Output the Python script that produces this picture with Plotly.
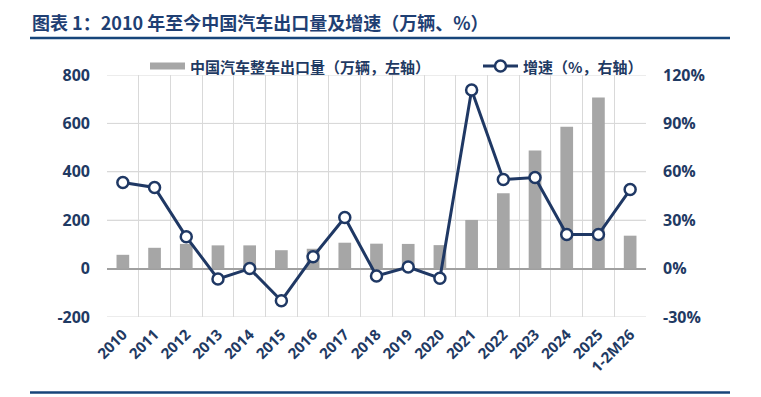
import plotly.graph_objects as go

categories = ["2010", "2011", "2012", "2013", "2014", "2015", "2016", "2017", "2018",
              "2019", "2020", "2021", "2022", "2023", "2024", "2025", "1-2M26"]
export_volume = [57, 86, 102, 96, 96, 76, 82, 107, 103, 102, 97, 201, 311, 488, 586, 707, 136]
growth_pct = [53.4, 50.3, 19.7, -6.4, 0.0, -19.9, 7.4, 31.7, -4.6, 1.0, -6.0, 110.7,
              55.2, 56.5, 21.1, 21.1, 49.0]

left_ticks = [-200, 0, 200, 400, 600, 800]
left_tick_text = ["-200", "0", "200", "400", "600", "800"]
right_ticks = [-30, 0, 30, 60, 90, 120]
right_tick_text = ["-30%", "0%", "30%", "60%", "90%", "120%"]

bar_name = "中国汽车整车出口量（万辆，左轴）"
line_name = "增速（%，右轴）"
title_text = "图表 1：2010 年至今中国汽车出口量及增速（万辆、%）"

NAVY = "#1F3864"
TXT = "#1F3A63"
RULE = "#17457A"
GRID = "#D9D9D9"

W, H = 761, 397
L, R, T, B = 107, 115, 75, 80
PW, PH = W - L - R, H - T - B


def px(x):
    return (x - L) / PW


def py(y):
    return (H - B - y) / PH


fig = go.Figure()

# horizontal gridlines at the left-axis ticks
for v in left_ticks:
    if v == 0:
        continue
    fig.add_shape(type="line", xref="paper", yref="y", x0=0, x1=1, y0=v, y1=v,
                  line=dict(color=GRID, width=1), layer="below")

fig.add_trace(go.Bar(
    x=categories, y=export_volume, name=bar_name,
    marker=dict(color="#A6A6A6", line=dict(width=0)), width=0.4, yaxis="y",
    showlegend=False,
))
fig.add_trace(go.Scatter(
    x=categories, y=growth_pct, name=line_name, yaxis="y2",
    mode="lines+markers",
    line=dict(color=NAVY, width=3),
    marker=dict(symbol="circle", size=11, color="white", line=dict(color=NAVY, width=2.5)),
    showlegend=False, cliponaxis=False,
))

tickfont = dict(family="Open Sans, Noto Sans CJK SC", size=16, color=TXT, weight="bold")

fig.update_layout(
    width=W, height=H,
    margin=dict(l=L, r=R, t=T, b=B, autoexpand=False),
    paper_bgcolor="white", plot_bgcolor="white",
    showlegend=False,
    xaxis=dict(type="category", range=[-0.5, len(categories) - 0.5], autorange=False,
               tickson="boundaries", showgrid=True, gridcolor=GRID,
               gridwidth=1, tickangle=-45, ticks="", showline=False, automargin=False,
               ticklabelstandoff=5,
               tickfont=dict(family="Open Sans, Noto Sans CJK SC", size=15, color=TXT, weight="bold")),
    yaxis=dict(range=[-200, 800], tickvals=left_ticks, ticktext=left_tick_text,
               showgrid=True, gridcolor=GRID,
               zeroline=True, zerolinecolor="#A0A0A0", zerolinewidth=1.5, automargin=False,
               tickfont=tickfont, ticks="", showline=False, ticklabelstandoff=16),
    yaxis2=dict(range=[-30, 120], tickvals=right_ticks, ticktext=right_tick_text,
                overlaying="y", side="right", showgrid=False, zeroline=False, automargin=False,
                tickfont=tickfont, ticks="", showline=False, ticklabelstandoff=16),
    bargap=0.6,
    title=dict(text=title_text,
               xref="container", yref="container", x=32 / W, xanchor="left",
               y=1 - 24 / H, yanchor="middle", automargin=False,
               font=dict(family="Noto Sans CJK SC", size=18, color="#1F3F73", weight="bold")),
)

# rules under the title and at the bottom
for yy in (38, 392.5):
    fig.add_shape(type="line", xref="paper", yref="paper",
                  x0=px(30), x1=px(730), y0=py(yy), y1=py(yy),
                  line=dict(color=RULE, width=2.5))

# manual legend
LEG_Y = 66
fig.add_shape(type="rect", xref="paper", yref="paper",
              x0=px(150), x1=px(185), y0=py(69.5), y1=py(62.5),
              fillcolor="#A6A6A6", line=dict(width=0))
fig.add_annotation(x=px(188), y=py(LEG_Y), xref="paper", yref="paper",
                   text=bar_name, showarrow=False, xanchor="left", yanchor="middle",
                   font=dict(family="Noto Sans CJK SC", size=15, color=TXT, weight="bold"))
fig.add_shape(type="line", xref="paper", yref="paper",
              x0=px(483), x1=px(518), y0=py(LEG_Y), y1=py(LEG_Y),
              line=dict(color=NAVY, width=3))
fig.add_shape(type="circle", xref="paper", yref="paper",
              x0=px(495), x1=px(506), y0=py(LEG_Y + 5.5), y1=py(LEG_Y - 5.5),
              fillcolor="white", line=dict(color=NAVY, width=2.5))
fig.add_annotation(x=px(521), y=py(LEG_Y), xref="paper", yref="paper",
                   text=line_name, showarrow=False, xanchor="left", yanchor="middle",
                   font=dict(family="Noto Sans CJK SC", size=15, color=TXT, weight="bold"))

fig.write_html("out.html", config={"displayModeBar": False},
               post_script="document.body.style.margin='0';document.body.style.overflow='hidden';")
